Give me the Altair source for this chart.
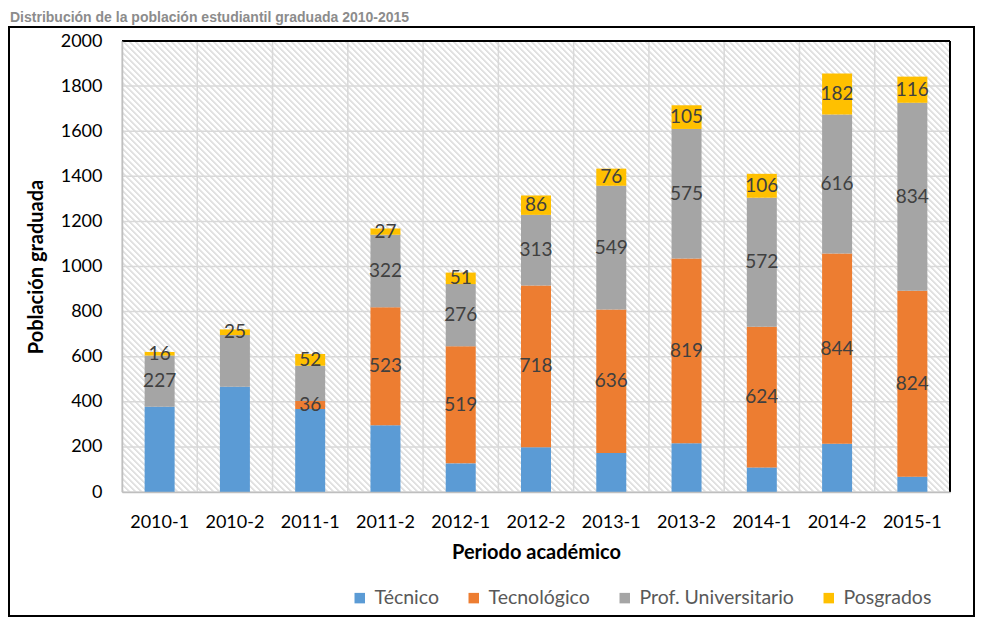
import altair as alt
import pandas as pd

# ---------------- data ----------------
periodos = ["2010-1", "2010-2", "2011-1", "2011-2", "2012-1", "2012-2",
            "2013-1", "2013-2", "2014-1", "2014-2", "2015-1"]
niveles = ["Técnico", "Tecnológico", "Prof. Universitario", "Posgrados"]
tecnico = [378, 467, 368, 296, 127, 198, 173, 216, 109, 214, 68]
tecnologico = [0, 0, 36, 523, 519, 718, 636, 819, 624, 844, 824]
profesional = [227, 229, 156, 322, 276, 313, 549, 575, 572, 616, 834]
posgrados = [16, 25, 52, 27, 51, 86, 76, 105, 106, 182, 116]
colores = ["#5B9BD5", "#ED7D31", "#A5A5A5", "#FFC000"]
ticks_y = [0, 200, 400, 600, 800, 1000, 1200, 1400, 1600, 1800, 2000]
niveles_sin_etiqueta = ["Técnico"]
etiquetas_ocultas = [("2010-2", "Prof. Universitario"), ("2011-1", "Prof. Universitario")]
titulo = "Distribución de la población estudiantil graduada 2010-2015"

series = [tecnico, tecnologico, profesional, posgrados]
rows = []
for i, p in enumerate(periodos):
    for j, (n, s) in enumerate(zip(niveles, series)):
        v = s[i]
        if v <= 0:
            continue
        lab = "" if (n in niveles_sin_etiqueta or (p, n) in etiquetas_ocultas) else str(v)
        rows.append({"periodo": p, "nivel": n, "orden": j, "valor": v, "etiqueta": lab})
df = pd.DataFrame(rows)

W, H = 828, 451
FONT = "Lato"

# ---------------- scales / axes ----------------
xscale = alt.Scale(domain=periodos, paddingInner=0, paddingOuter=0)
yscale = alt.Scale(domain=[0, 2000], nice=False)
xaxis = alt.Axis(title="Periodo académico", labelAngle=0, ticks=False, grid=False,
                 domainColor="#bfbfbf", domainWidth=1.5, labelFontSize=18,
                 labelPadding=21, labelColor="black", titleFontSize=20,
                 titleFontWeight="bold", titleColor="black", titlePadding=11,
                 labelFont=FONT, titleFont=FONT, zindex=1)
yaxis = alt.Axis(title="Población graduada", values=ticks_y, format="d", ticks=False,
                 grid=False, domainColor="#bfbfbf", domainWidth=1.5, labelFontSize=18,
                 labelPadding=20, labelColor="black", titleFontSize=20,
                 titleFontWeight="bold", titleColor="black", titlePadding=14,
                 labelFont=FONT, titleFont=FONT, zindex=1)

one = alt.Data(values=[{}])

# ---------------- hatched background ----------------
L = W + H
period = 6
stops = []
for i in range(int(L / period) + 2):
    s = i * period
    for off, col in [(0, "#ffffff"), (1.0, "#e1e1e1"), (2.6, "#e1e1e1"), (3.6, "#ffffff")]:
        o = (s + off) / L
        if o <= 1:
            stops.append(alt.GradientStop(offset=o, color=col))
k = L / (W * W + H * H)
grad = alt.LinearGradient(gradient="linear", stops=stops, x1=0, y1=1, x2=k * W, y2=1 - k * H)

hatch = alt.Chart(one).mark_rect(color=grad).encode(
    x=alt.value(0), x2=alt.value("width"), y=alt.value(0), y2=alt.value("height"))

# ---------------- grid ----------------
hgrid = alt.Chart(pd.DataFrame({"tick": ticks_y})).mark_rule(
    color="#d9d9d9", strokeWidth=1.5).encode(
    y=alt.Y("tick:Q", scale=yscale, axis=yaxis))
vgrid = alt.Chart(pd.DataFrame({"periodo": periodos})).mark_rule(
    color="#d9d9d9", strokeWidth=1.5).encode(
    x=alt.X("periodo:N", scale=xscale, axis=xaxis, bandPosition=0))

# ---------------- bars + labels ----------------
base = alt.Chart(df).transform_stack(
    stack="valor", groupby=["periodo"], as_=["y0", "y1"],
    sort=[alt.SortField("orden", order="ascending")]
).transform_calculate(ymid="(datum.y0 + datum.y1) / 2")

bars = base.mark_bar(size=30).encode(
    x=alt.X("periodo:N", scale=xscale, axis=xaxis),
    y=alt.Y("y0:Q", scale=yscale, axis=yaxis),
    y2="y1:Q",
    color=alt.Color("nivel:N", scale=alt.Scale(domain=niveles, range=colores),
                    legend=alt.Legend(orient="none", legendX=228, legendY=547,
                                      direction="horizontal", columns=4, title=None,
                                      symbolType="square", symbolSize=110,
                                      symbolStrokeWidth=0, labelFontSize=19.5,
                                      labelColor="#595959", labelFont=FONT,
                                      columnPadding=25, labelOffset=5)),
    order=alt.Order("orden:Q"),
)

labels = base.mark_text(fontSize=19, color="#404040", baseline="middle", font=FONT).encode(
    x=alt.X("periodo:N", scale=xscale, axis=xaxis),
    y=alt.Y("ymid:Q", scale=yscale, axis=yaxis),
    text="etiqueta:N",
)

# ---------------- borders / frame / title ----------------
top_border = alt.Chart(one).mark_rule(color="black", strokeWidth=2).encode(
    x=alt.value(0), x2=alt.value("width"), y=alt.value(0))
right_border = alt.Chart(one).mark_rule(color="black", strokeWidth=2).encode(
    x=alt.value("width"), y=alt.value(0), y2=alt.value("height"))
frame = alt.Chart(one).mark_rect(filled=False, stroke="black", strokeWidth=2).encode(
    x=alt.value(-113), x2=alt.value(852), y=alt.value(-14), y2=alt.value(575))
title_txt = alt.Chart(one).mark_text(
    align="left", baseline="alphabetic", fontSize=14, fontWeight="bold",
    color="#8c8c8c", font="Liberation Sans").encode(
    x=alt.value(-112), y=alt.value(-19), text=alt.value(titulo))

chart = alt.layer(
    hatch, hgrid, vgrid, bars, labels, top_border, right_border, frame, title_txt
).properties(
    width=W, height=H,
    autosize=alt.AutoSizeParams(type="none"),
    padding={"left": 114, "top": 33, "right": 26, "bottom": 126},
    background="white",
).configure_view(stroke=None).configure(font=FONT)

chart.save("out.html", embed_options={"renderer": "svg", "actions": False})
